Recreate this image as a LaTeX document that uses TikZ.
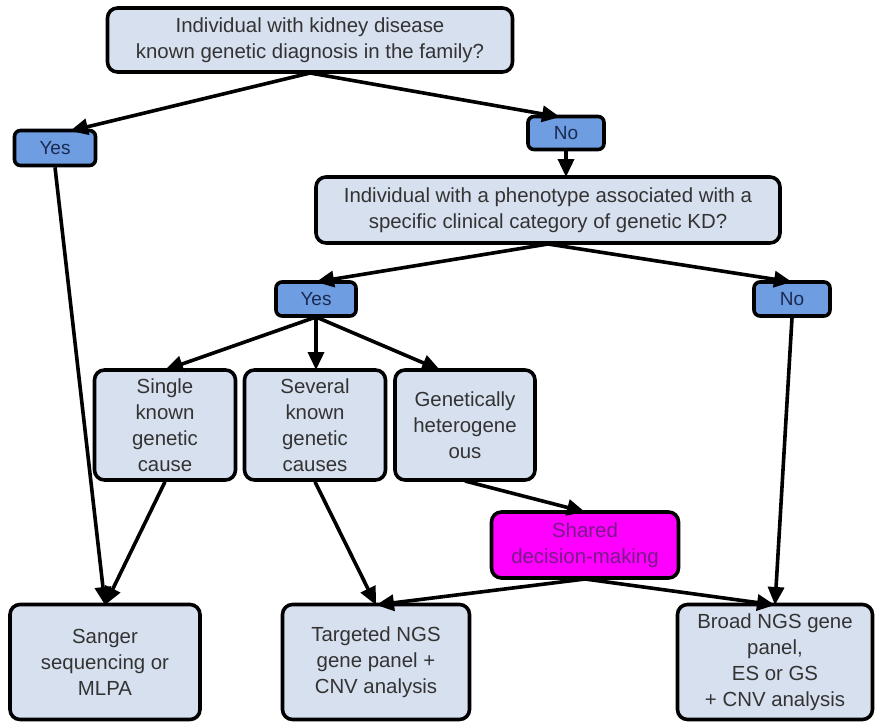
\documentclass[tikz,border=0pt]{standalone}
\usepackage{fontspec}
\setmainfont{Liberation Sans}
\usetikzlibrary{arrows.meta}
\definecolor{boxfill}{HTML}{D7E0EF}
\definecolor{ynfill}{HTML}{6E9DE2}
\definecolor{boxtext}{HTML}{333333}
\definecolor{yntext}{HTML}{1A2A50}
\definecolor{shfill}{HTML}{FF00FF}
\definecolor{shtext}{HTML}{7A1A8A}
\tikzset{
  base/.style={draw=black, line width=3.6pt, rounded corners=10pt, align=center, inner sep=1pt,
    font=\fontsize{20.4}{26}\selectfont},
  lbox/.style={base, fill=boxfill, text=boxtext},
  ynbox/.style={base, fill=ynfill, text=yntext, rounded corners=6pt, font=\fontsize{19}{22}\selectfont},
  shbox/.style={base, fill=shfill, text=shtext},
  arr/.style={line width=3.6pt, -{Triangle[length=18pt,width=16pt]}},
}
\begin{document}
\begin{tikzpicture}[x=1pt,y=-1pt]
\useasboundingbox (0,0) rectangle (883,725);
\node[lbox, minimum width=405, minimum height=64] (q1) at (310,40) {Individual with kidney disease\\known genetic diagnosis in the family?};
\node[ynbox, minimum width=81, minimum height=35] (yes1) at (55,148) {Yes};
\node[ynbox, minimum width=76, minimum height=33] (no1) at (566,133) {No};
\node[lbox, minimum width=464, minimum height=66] (q2) at (548,210) {Individual with a phenotype associated with a\\specific clinical category of genetic KD?};
\node[ynbox, minimum width=80, minimum height=34] (yes2) at (316,299) {Yes};
\node[ynbox, minimum width=76, minimum height=34] (no2) at (792,299) {No};
\node[lbox, minimum width=141, minimum height=110] (single) at (165,425) {Single\\known\\genetic\\cause};
\node[lbox, minimum width=141, minimum height=110] (several) at (315,425) {Several\\known\\genetic\\causes};
\node[lbox, minimum width=140, minimum height=110] (hetero) at (465,425) {Genetically\\heterogene\\ous};
\node[shbox, minimum width=187, minimum height=66] (shared) at (585,545) {Shared\\decision-making};
\node[lbox, minimum width=190, minimum height=115] (sanger) at (105,662) {Sanger\\sequencing or\\MLPA};
\node[lbox, minimum width=187, minimum height=115] (targeted) at (376,662) {Targeted NGS\\gene panel +\\CNV analysis};
\node[lbox, minimum width=195, minimum height=115] (broad) at (775,662) {Broad NGS gene\\panel,\\ES or GS\\+ CNV analysis};
\coordinate (q1b) at (310,73);
\draw[arr] (q1b) -- (70,131);
\draw[arr] (q1b) -- (560,117);
\draw[arr] (yes1.south) -- (105,605);
\draw[arr] (no1.south) -- (566,177);
\coordinate (q2b) at (548,244);
\draw[arr] (q2b) -- (316,282);
\draw[arr] (q2b) -- (792,282);
\coordinate (y2b) at (316,317);
\draw[arr] (y2b) -- (165,370);
\draw[arr] (y2b) -- (316,370);
\draw[arr] (y2b) -- (440,370);
\draw[arr] (single.south) -- (105,605);
\draw[arr] (several.south) -- (376,605);
\draw[arr] (465,481) -- (585,512);
\coordinate (shb) at (585,579);
\draw[arr] (shb) -- (376,605);
\draw[arr] (shb) -- (775,605);
\draw[arr] (no2.south) -- (775,605);
\end{tikzpicture}
\end{document}
